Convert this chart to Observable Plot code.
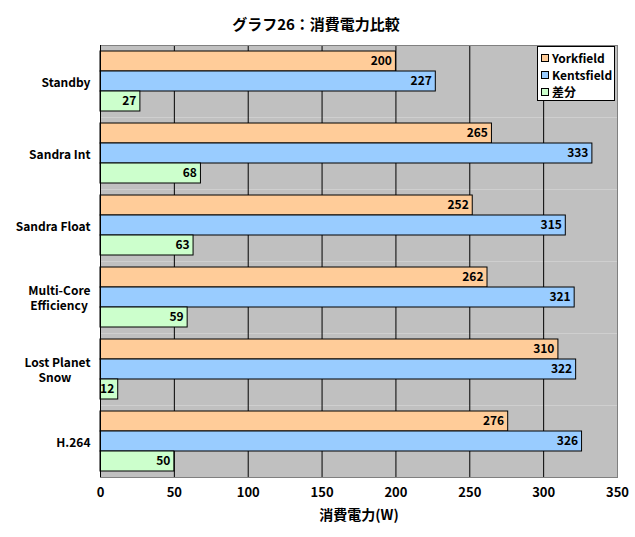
<!DOCTYPE html>
<html>
<head>
<meta charset="utf-8">
<script src="https://cdn.jsdelivr.net/npm/d3@7"></script>
<script src="https://cdn.jsdelivr.net/npm/@observablehq/plot@0.6"></script>
<style>
  html, body { margin: 0; padding: 0; background: #fff; }
  #wrap { position: relative; width: 635px; height: 537px; font-family: "Noto Sans CJK JP", sans-serif; }
  #title { position: absolute; top: 14px; left: 0; width: 632px; text-align: center; font-size: 15px; font-weight: bold; line-height: 20px; }
  #legend { position: absolute; left: 537px; top: 46px; width: 78px; height: 55px; background: #fff; border: 1px solid #000; box-sizing: border-box; padding: 2px 0 0 3px; }
  .item { display: flex; align-items: center; height: 17px; font-size: 12px; font-weight: bold; }
  .sw { width: 8px; height: 8px; border: 1px solid #000; margin-right: 3px; box-sizing: border-box; }
  svg text { font-family: "Noto Sans CJK JP", sans-serif; }
</style>
</head>
<body>
<div id="wrap">
  <div id="title"></div>
  <div id="chart"></div>
  <div id="legend"></div>
</div>
<script>
const title = "グラフ26：消費電力比較";
const xLabel = "消費電力(W)";
const categories = ["Standby", "Sandra Int", "Sandra Float", "Multi-Core\nEfficiency", "Lost Planet\nSnow", "H.264"];
const series = ["Yorkfield", "Kentsfield", "差分"];
const yorkfield = [200, 265, 252, 262, 310, 276];
const kentsfield = [227, 333, 315, 321, 322, 326];
const diff = [27, 68, 63, 59, 12, 50];
const xTicks = [0, 50, 100, 150, 200, 250, 300, 350];
const gridTicks = [50, 100, 150, 200, 250, 300];
const colors = ["#FFCC99", "#99CCFF", "#CCFFCC"];

const seriesValues = [yorkfield, kentsfield, diff];
const data = [];
categories.forEach((c, i) => {
  series.forEach((s, j) => data.push({category: c, series: s, value: seriesValues[j][i]}));
});

// center multi-line labels relative to their widest line
function formatCat(c) {
  if (c === "Lost Planet\nSnow") return "Lost Planet\nSnow" + "\u00a0".repeat(7);
  if (c === "Multi-Core\nEfficiency") return "Multi-Core\nEfficiency\u00a0";
  return c;
}

document.getElementById("title").textContent = title;

const chart = Plot.plot({
  width: 635,
  height: 537,
  marginLeft: 100,
  marginRight: 18,
  marginTop: 45,
  marginBottom: 60,
  style: {fontFamily: "'Noto Sans CJK JP', sans-serif", fontSize: "12px", fontWeight: "bold", color: "#000", background: "transparent"},
  x: {domain: [0, 350], labelArrow: "none"},
  y: {domain: series, axis: null, paddingInner: 0, paddingOuter: 0.3},
  fy: {domain: categories, padding: 0, label: null},
  color: {domain: series, range: colors},
  marks: [
    Plot.frame({fill: "#C0C0C0"}),
    Plot.ruleX(gridTicks, {stroke: "#000", strokeWidth: 1}),
    Plot.barX(data, {fy: "category", y: "series", x: "value", fill: "series", stroke: "#000", strokeWidth: 1}),
    Plot.text(data, {fy: "category", y: "series", x: "value", text: d => String(d.value), textAnchor: "end", dx: -4, fill: "#000", fontWeight: "bold", fontSize: 12}),
    Plot.frame({facet: "super", stroke: "#808080"}),
    Plot.ruleX([0], {stroke: "#000"}),
    Plot.axisFy({anchor: "left", tickSize: 0, tickPadding: 10, tickFormat: formatCat, lineHeight: 1.3, fontSize: 12, fontWeight: "bold", label: null}),
    Plot.axisX({ticks: xTicks, tickSize: 0, tickPadding: 10, fontSize: 13, fontWeight: "bold", label: null}),
    Plot.axisX({ticks: [], tickSize: 0, label: xLabel, labelArrow: "none", labelAnchor: "center", labelOffset: 42, fontSize: 14, fontWeight: "bold"})
  ]
});
document.getElementById("chart").appendChild(chart);

const legend = document.getElementById("legend");
series.forEach((s, j) => {
  const item = document.createElement("div");
  item.className = "item";
  const sw = document.createElement("span");
  sw.className = "sw";
  sw.style.background = colors[j];
  const t = document.createElement("span");
  t.textContent = s;
  item.appendChild(sw);
  item.appendChild(t);
  legend.appendChild(item);
});
</script>
</body>
</html>
